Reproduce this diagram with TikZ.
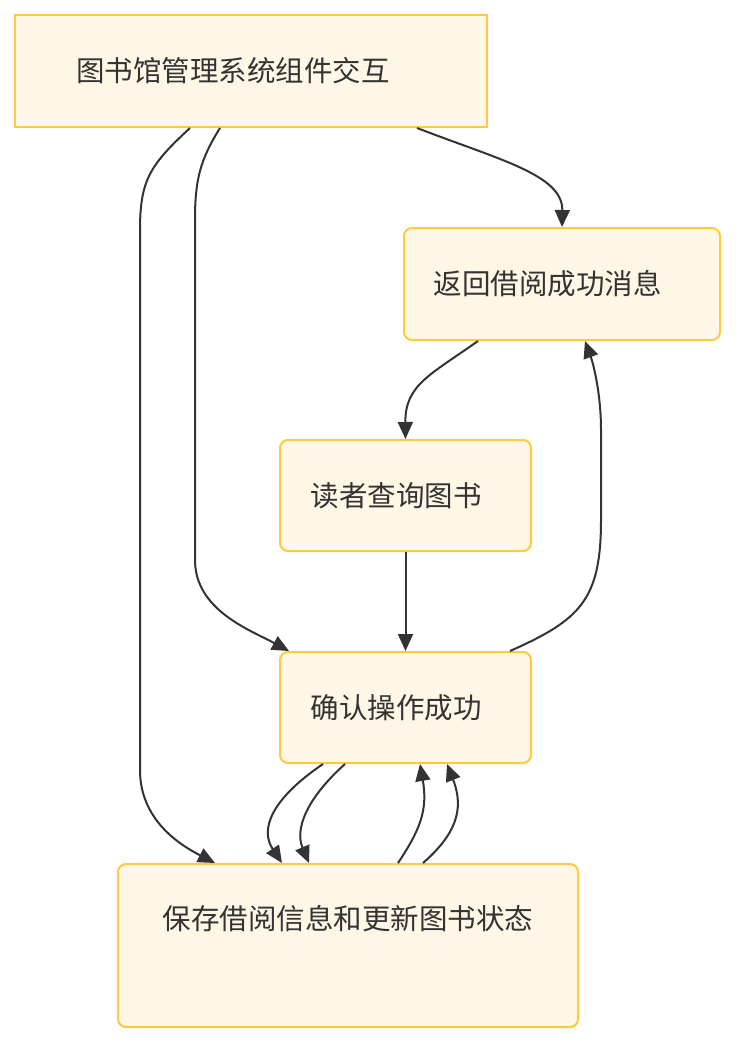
\documentclass[tikz,border=0pt]{standalone}
\usepackage{fontspec}
\newfontfamily\cjk{Noto Sans CJK SC}
\usetikzlibrary{arrows.meta}
\definecolor{boxfill}{HTML}{FFF7E6}
\definecolor{boxline}{HTML}{FFC940}
\definecolor{ink}{HTML}{333333}
\begin{document}
\begin{tikzpicture}[x=1pt,y=-1pt,
		every node/.style={font=\cjk\fontsize{28.5}{32}\selectfont,text=ink},
		box/.style={draw=boxline,fill=boxfill,line width=2pt,rounded corners=8pt,inner sep=0pt},
		flow/.style={draw=ink,line width=2pt,-{Triangle[length=17pt,width=15pt]}}]
		\useasboundingbox (0,0) rectangle (736,1044);

		\node[box,rounded corners=0pt,minimum width=472pt,minimum height=112pt] (top) at (251,71) {};
		\node[box,minimum width=316pt,minimum height=112pt] (ret) at (562,284) {};
		\node[box,minimum width=251pt,minimum height=111pt] (qry) at (405.5,495.5) {};
		\node[box,minimum width=251pt,minimum height=111pt] (conf) at (405.5,707.5) {};
		\node[box,minimum width=460pt,minimum height=163pt] (save) at (348,945.5) {};

		\node (topl) at ([xshift=-18pt]top.center) {图书馆管理系统组件交互};
		\node (retl) at ([xshift=-14.5pt]ret.center) {返回借阅成功消息};
		\node (qryl) at ([xshift=-9.5pt]qry.center) {读者查询图书};
		\node (confl) at ([xshift=-9.5pt]conf.center) {确认操作成功};
		\node (savel) at ([yshift=27pt]save.center) {保存借阅信息和更新图书状态};

		\draw[flow] ([xshift=166pt]top.south) .. controls (500,160) and (563,175) .. (ret.north);
		\draw[flow] ([xshift=-31pt]top.south) .. controls (200,160) and (195,180) .. (195,220)
			-- (195,560) .. controls (195,610) and (250,630) .. ([xshift=10pt]conf.north west);
		\draw[flow] ([xshift=-61pt]top.south) .. controls (150,165) and (140,180) .. (140,230)
			-- (140,770) .. controls (140,820) and (180,845) .. ([xshift=-133pt]save.north);
		\draw[flow] ([xshift=-84pt]ret.south) .. controls (430,375) and (405,385) .. (qry.north);
		\draw[flow] (qry.south) -- (conf.north);
		\draw[flow] ([xshift=104.5pt]conf.north) .. controls (580,620) and (601,600) .. (601,520)
			-- (601,430) .. controls (601,390) and (592,360) .. ([xshift=23pt]ret.south);
		\draw[flow] ([xshift=-82.5pt]conf.south) .. controls (270,800) and (260,830) .. ([xshift=-66pt]save.north);
		\draw[flow] ([xshift=-60.5pt]conf.south) .. controls (305,800) and (295,830) .. ([xshift=-39pt]save.north);
		\draw[flow] ([xshift=50pt]save.north) .. controls (420,830) and (428,810) .. ([xshift=14.5pt]conf.south);
		\draw[flow] ([xshift=75pt]save.north) .. controls (455,835) and (465,810) .. ([xshift=41.5pt]conf.south);
	\end{tikzpicture}
\end{document}
